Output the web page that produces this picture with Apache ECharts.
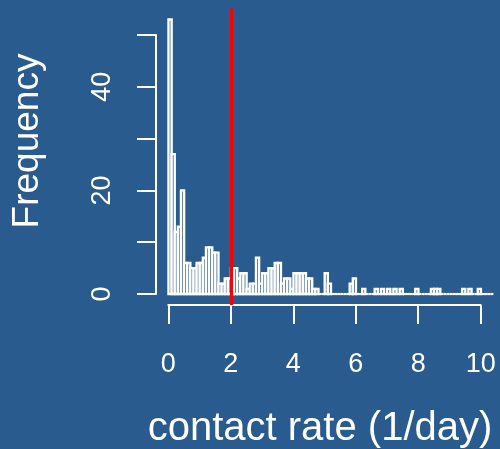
<!DOCTYPE html>
<html>
<head>
<meta charset="utf-8">
<script src="https://cdn.jsdelivr.net/npm/echarts@6/dist/echarts.min.js"></script>
<style>
html,body{margin:0;padding:0;background:#295B8E;}
#c{width:500px;height:449px;}
</style>
</head>
<body>
<div id="c"></div>
<script>
// ---- data ----
const binStart = 0;
const binWidth = 0.1;
const counts = [
  53,27,12,13,20,6,6,5,5,6,
  6,7,9,9,8,8,2,2,3,3,
  5,5,3,4,4,1,2,2,7,2,
  4,4,5,5,6,6,2,3,3,1,
  4,4,4,4,3,3,1,1,0,0,
  4,2,0,0,0,0,0,0,2,3,
  0,0,1,0,0,0,1,0,1,0,
  1,0,1,0,1,0,0,0,0,1,
  0,0,0,0,1,1,1,0,0,0,
  0,0,0,0,1,0,1,0,0,1,
  0,0,0,0
];
const threshold = 2;
const xTicks = [0, 2, 4, 6, 8, 10];
const yTicks = [0, 10, 20, 30, 40, 50];
const yTickLabels = [0, 20, 40];
const xTitle = 'contact rate (1/day)';
const yTitle = 'Frequency';

// ---- chart ----
const BG = '#295B8E';
const FONT = 'Liberation Sans, Arial, sans-serif';
const histData = counts.map((c, i) => [binStart + i * binWidth, binStart + (i + 1) * binWidth, c]);
const chart = echarts.init(document.getElementById('c'), null, {renderer: 'canvas'});
const axisStyle = {color: '#ffffff', width: 2};
chart.setOption({
  backgroundColor: BG,
  animation: false,
  grid: [
    {left: 156, top: 8.5, width: 337.4, height: 296.5, outerBoundsMode: 'none'},
    {left: 168.3, top: 8.5, width: 312.4, height: 296.5, outerBoundsMode: 'none'},
    {left: 156, top: 35, width: 300, height: 259, outerBoundsMode: 'none'}
  ],
  xAxis: [
    {gridIndex: 0, type: 'value', min: -0.4, max: 10.4, show: false},
    {gridIndex: 1, type: 'value', min: xTicks[0], max: xTicks[xTicks.length - 1], interval: xTicks[1] - xTicks[0],
      axisLine: {show: true, lineStyle: axisStyle},
      axisTick: {show: true, length: 19, lineStyle: axisStyle},
      splitLine: {show: false},
      axisLabel: {color: '#ffffff', fontSize: 27, fontFamily: FONT, margin: 46}
    },
    {gridIndex: 2, type: 'value', show: false}
  ],
  yAxis: [
    {gridIndex: 0, type: 'value', min: -2.12, max: 55.12, show: false},
    {gridIndex: 1, type: 'value', show: false},
    {gridIndex: 2, type: 'value', min: yTicks[0], max: yTicks[yTicks.length - 1], interval: yTicks[1] - yTicks[0],
      axisLine: {show: true, lineStyle: axisStyle},
      axisTick: {show: true, length: 19, lineStyle: axisStyle},
      splitLine: {show: false},
      axisLabel: {color: '#ffffff', fontSize: 27, fontFamily: FONT, rotate: 90, margin: 40,
        formatter: v => yTickLabels.indexOf(v) >= 0 ? String(v) : ''}
    }
  ],
  series: [{
    type: 'custom',
    xAxisIndex: 0, yAxisIndex: 0,
    data: histData,
    encode: {x: [0, 1], y: 2},
    renderItem: function (params, api) {
      const s = api.value(0), e = api.value(1), c = api.value(2);
      const p0 = api.coord([s, 0]);
      const p1 = api.coord([e, c]);
      if (c === 0) {
        return {type: 'line', shape: {x1: p0[0], y1: p0[1], x2: p1[0], y2: p0[1]},
          style: {stroke: '#ffffff', lineWidth: 2.2}};
      }
      return {type: 'rect', shape: {x: p0[0], y: p1[1], width: p1[0] - p0[0], height: p0[1] - p1[1]},
        style: {fill: BG, stroke: '#ffffff', lineWidth: 2.4}};
    },
    markLine: {
      silent: true, symbol: 'none', animation: false,
      label: {show: false},
      lineStyle: {color: '#ff0000', width: 3, type: 'solid'},
      data: [{xAxis: threshold}]
    },
    z: 2
  }],
  graphic: [
    {type: 'text', x: 320, y: 429,
      style: {text: xTitle, fill: '#ffffff', fontSize: 40, fontFamily: FONT, align: 'center', verticalAlign: 'middle'}},
    {type: 'text', rotation: Math.PI / 2, x: 9, y: 141,
      style: {text: yTitle, fill: '#ffffff', fontSize: 37, fontFamily: FONT, align: 'center', verticalAlign: 'top'}}
  ]
});
</script>
</body>
</html>
